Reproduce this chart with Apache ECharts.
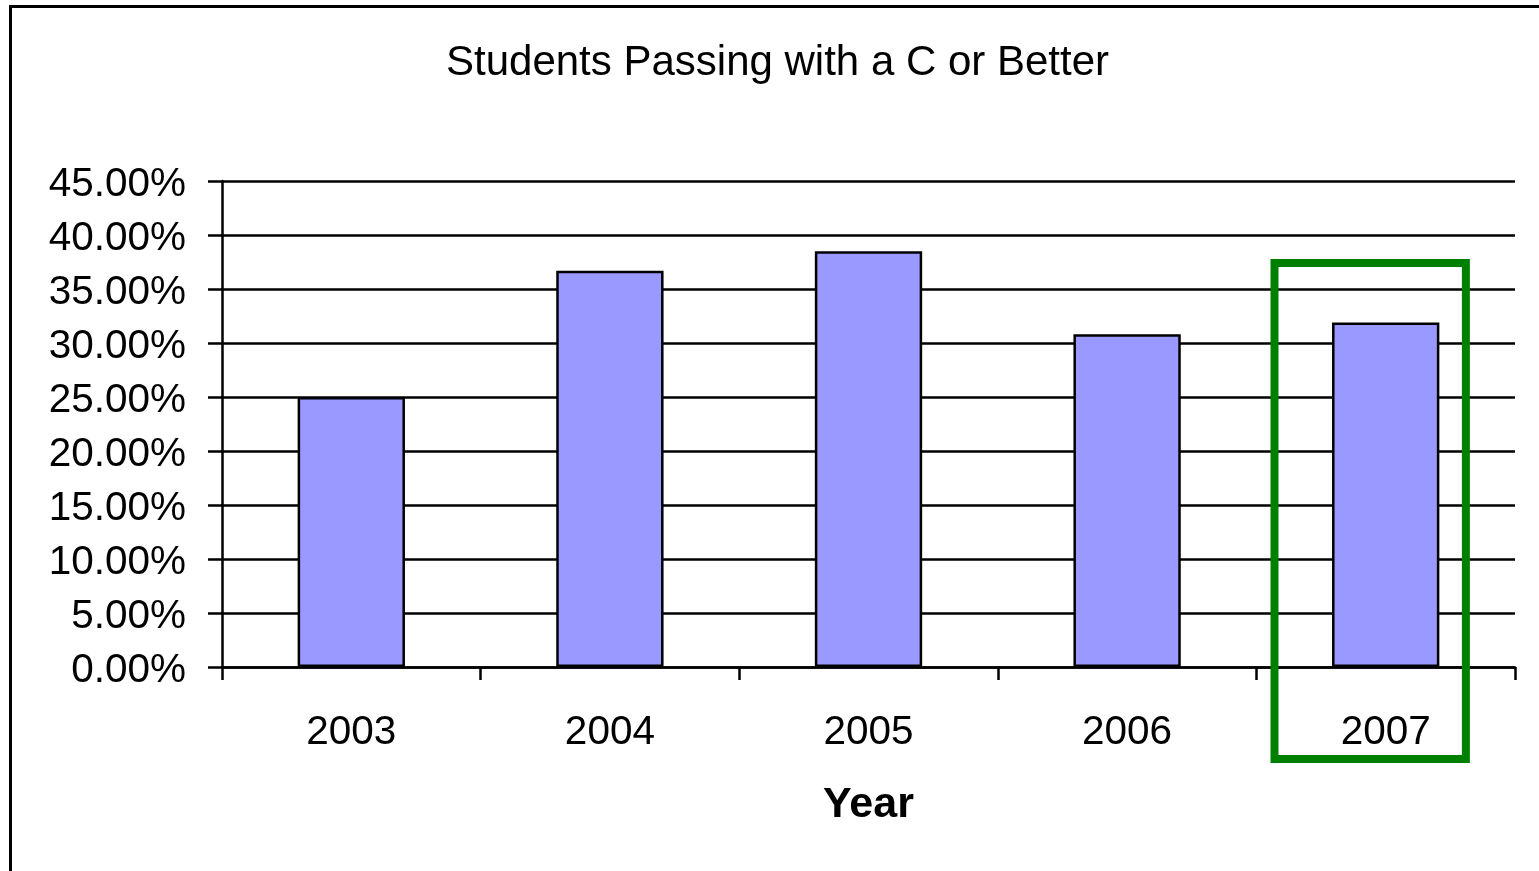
<!DOCTYPE html>
<html>
<head>
<meta charset="utf-8">
<title>Students Passing with a C or Better</title>
<script src="https://cdn.jsdelivr.net/npm/echarts@6/dist/echarts.min.js"></script>
<style>
  html, body { margin: 0; padding: 0; background: #fff; }
  #chart { width: 1539px; height: 871px; }
</style>
</head>
<body>
<div id="chart"></div>
<script>
// Share of students finishing with a grade of C or better, by year
const years = ['2003', '2004', '2005', '2006', '2007'];
const passRates = [0.250, 0.367, 0.385, 0.308, 0.319];
const highlightYear = '2007';

const FONT = '"Liberation Sans", Arial, sans-serif';
const chart = echarts.init(document.getElementById('chart'), null, { renderer: 'canvas' });

chart.setOption({
  animation: false,
  backgroundColor: '#fff',
  title: {
    text: 'Students Passing with a C or Better',
    left: 441,
    top: 37,
    textStyle: { fontFamily: FONT, fontSize: 42, fontWeight: 'normal', color: '#000' }
  },
  grid: { left: 222, right: 24, top: 181, bottom: 204 },
  xAxis: {
    type: 'category',
    data: years,
    name: 'Year',
    nameLocation: 'middle',
    nameGap: 117,
    nameTextStyle: { fontFamily: FONT, fontSize: 43, fontWeight: 'bold', color: '#000' },
    axisLine: { lineStyle: { color: '#000', width: 2.5 } },
    axisTick: { show: true, length: 13, lineStyle: { color: '#000', width: 2.5 } },
    axisLabel: { margin: 45, fontFamily: FONT, fontSize: 40.5, color: '#000' }
  },
  yAxis: {
    type: 'value',
    min: 0,
    max: 0.45,
    interval: 0.05,
    axisLine: { show: true, lineStyle: { color: '#000', width: 2.5 } },
    axisTick: { show: true, length: 14, lineStyle: { color: '#000', width: 2.5 } },
    splitLine: { show: true, lineStyle: { color: '#000', width: 2.5 } },
    axisLabel: {
      margin: 36,
      color: '#000',
      formatter: v => '{p|' + (v * 100).toFixed(2) + '%}',
      rich: {
        p: { fontFamily: FONT, fontSize: 40.5, color: '#000', padding: [7, 0, 0, 0] }
      }
    }
  },
  series: [{
    type: 'bar',
    data: passRates,
    barWidth: '41.5%',
    itemStyle: { color: '#9999FF', borderColor: '#000', borderWidth: 2.5 }
  }]
});

// Outer frame plus the highlight box around the selected year, placed from the axis scales
function drawOverlays() {
  const idx = years.indexOf(highlightYear);
  const center = chart.convertToPixel({ xAxisIndex: 0 }, highlightYear);
  const prev = chart.convertToPixel({ xAxisIndex: 0 }, years[idx - 1]);
  const band = Math.abs(center - prev);
  const yTop = chart.convertToPixel({ yAxisIndex: 0 }, 0.374);
  const yZero = chart.convertToPixel({ yAxisIndex: 0 }, 0);
  const x0 = center - 0.43 * band;
  const x1 = center + 0.31 * band;
  const y1 = yZero + 92;

  chart.setOption({
    graphic: [
      {
        type: 'rect',
        shape: { x: 10.5, y: 6.5, width: 1600, height: 1000 },
        style: { fill: 'none', stroke: '#000', lineWidth: 3 },
        silent: true,
        z: 100
      },
      {
        type: 'rect',
        shape: { x: x0, y: yTop, width: x1 - x0, height: y1 - yTop },
        style: { fill: 'none', stroke: '#008000', lineWidth: 8 },
        silent: true,
        z: 100
      }
    ]
  });
}
drawOverlays();
</script>
</body>
</html>
